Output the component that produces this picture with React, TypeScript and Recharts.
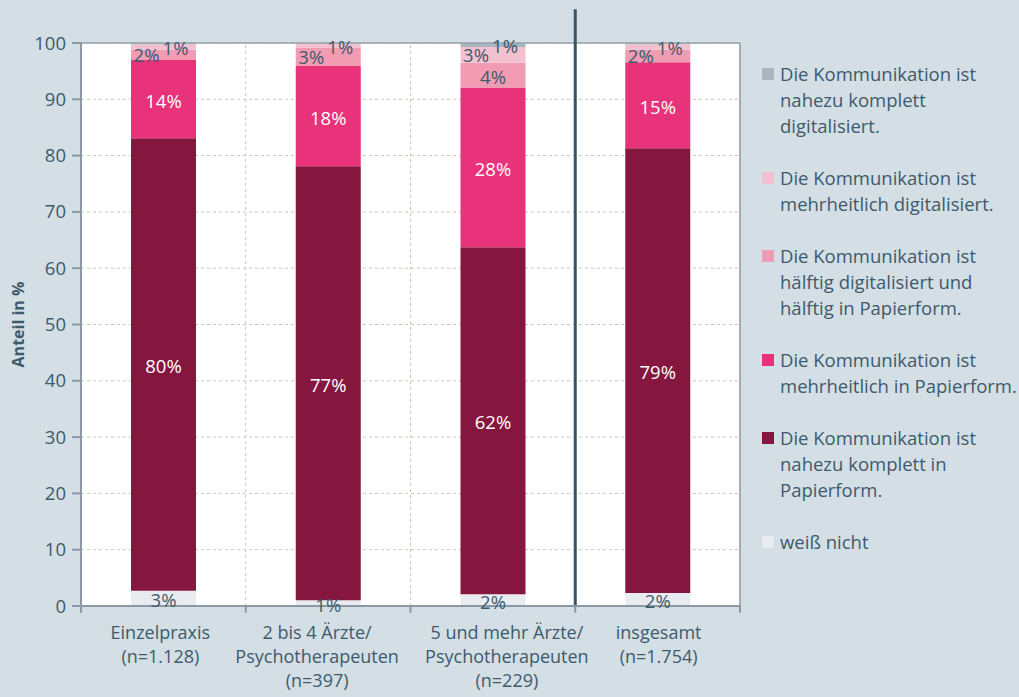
import React from "react";
import { BarChart, Bar, XAxis, YAxis, CartesianGrid, ReferenceLine, LabelList } from "recharts";

const BG = "#d3dee5", INK = "#3e5a6c", AXIS = "#8c98a5", GRID = "#cdc5bc", SEP = "#3a5464";
const FONT = "'Open Sans', sans-serif";

const CATEGORIES = ["Einzelpraxis", "2 bis 4 Ärzte", "5 und mehr Ärzte", "insgesamt"];
const TICK_LINES = [
  ["Einzelpraxis", "(n=1.128)"],
  ["2 bis 4 Ärzte/", "Psychotherapeuten", "(n=397)"],
  ["5 und mehr Ärzte/", "Psychotherapeuten", "(n=229)"],
  ["insgesamt", "(n=1.754)"],
];
const TICK_DX = [-3, -11, 14, 1];
const Y_TICKS = [0, 10, 20, 30, 40, 50, 60, 70, 80, 90, 100];

// stacked bottom -> top
const WEISS_NICHT = [2.7, 1.0, 2.1, 2.3];
const KOMPLETT_PAPIER = [80.4, 77.1, 61.6, 79.0];
const MEHRHEIT_PAPIER = [13.9, 17.8, 28.4, 15.3];
const HAELFTIG = [1.8, 3.3, 4.4, 2.2];
const MEHRHEIT_DIGITAL = [1.0, 0.7, 2.8, 1.0];
const KOMPLETT_DIGITAL = [0.2, 0.1, 0.7, 0.2];

type S = { key: string; name: string; color: string; values: number[]; ink: string; small?: boolean };
const SERIES: S[] = [
  { key: "wn", name: "weiß nicht", color: "#e8ecf0", values: WEISS_NICHT, ink: INK },
  { key: "kp", name: "Die Kommunikation ist\nnahezu komplett in\nPapierform.", color: "#85173f", values: KOMPLETT_PAPIER, ink: "#fff" },
  { key: "mp", name: "Die Kommunikation ist\nmehrheitlich in Papierform.", color: "#e8327a", values: MEHRHEIT_PAPIER, ink: "#fff" },
  { key: "hh", name: "Die Kommunikation ist\nhälftig digitalisiert und\nhälftig in Papierform.", color: "#f29cb4", values: HAELFTIG, ink: INK, small: true },
  { key: "md", name: "Die Kommunikation ist\nmehrheitlich digitalisiert.", color: "#f3c0d0", values: MEHRHEIT_DIGITAL, ink: INK, small: true },
  { key: "kd", name: "Die Kommunikation ist\nnahezu komplett\ndigitalisiert.", color: "#a9b6c0", values: KOMPLETT_DIGITAL, ink: INK, small: true },
];

const data = CATEGORIES.map((c, i) => {
  const row: any = { cat: c };
  SERIES.forEach(s => (row[s.key] = s.values[i]));
  return row;
});

const smallKeys = (i: number) =>
  SERIES.filter(s => s.small && s.values[i] >= 0.5 && s.values[i] < 4).map(s => s.key);

const makeLabel = (s: S) => (p: any) => {
  const vb = p.viewBox || p;
  const { x, y, width, height } = vb;
  const i = p.index;
  const v = s.values[i];
  if (v == null || v < 0.5) return null;
  let dx = 0, dy = 1;
  if (s.small) {
    const k = smallKeys(i).indexOf(s.key);
    if (k === 0) { dx = -17; dy = 0; }
    else if (k === 1) dx = 12;
  }
  return (
    <text x={x + width / 2 + dx} y={y + height / 2 + dy} textAnchor="middle" dominantBaseline="central"
      fill={s.ink} fontSize={18.5} fontFamily={FONT}>
      {Math.round(v)}%
    </text>
  );
};

const XTick = (p: any) => {
  const { x, y, payload } = p;
  const idx = CATEGORIES.indexOf(payload.value);
  const lines = TICK_LINES[idx] || [];
  const tx = x + (TICK_DX[idx] || 0);
  return (
    <text x={tx} y={y} textAnchor="middle" fill={INK} fontSize={18} fontFamily={FONT}>
      {lines.map((l, i) => <tspan key={i} x={tx} dy={i === 0 ? 25 : 24}>{l}</tspan>)}
    </text>
  );
};

const YLabel = (p: any) => {
  const vb = p.viewBox;
  const cx = 18, cy = vb.y + vb.height / 2;
  return (
    <text x={cx} y={cy} transform={`rotate(-90 ${cx} ${cy})`} textAnchor="middle" dominantBaseline="central"
      fill={INK} fontSize={16} fontWeight="bold" fontFamily={FONT}>Anteil in %</text>
  );
};

export default function App() {
  const legend = [...SERIES].reverse();
  return (
    <div style={{ position: "absolute", left: 0, top: 0, width: 1019, height: 697, background: BG, fontFamily: FONT }}>
      <BarChart width={758} height={697} data={data} margin={{ top: 43, right: 18, left: 10, bottom: 11 }}>
        <CartesianGrid vertical={false} stroke={GRID} strokeDasharray="3 3" fill="#fff" />
        <XAxis dataKey="cat" height={80} axisLine={{ stroke: AXIS, strokeWidth: 2 }} tickLine={false} tick={<XTick />} interval={0} />
        <YAxis domain={[0, 100]} ticks={Y_TICKS} width={71} axisLine={{ stroke: AXIS, strokeWidth: 2 }}
          tickLine={{ stroke: AXIS, strokeWidth: 2 }} tickSize={9} tickMargin={6}
          tick={{ fill: INK, fontSize: 18.5, fontFamily: FONT }} label={<YLabel />} />
        <ReferenceLine y={100} stroke="#97a3ad" strokeWidth={1.5} />
        <ReferenceLine x={CATEGORIES[3]} position="end" stroke={AXIS} strokeWidth={1.5} />
        {[1, 2].map(i => (
          <ReferenceLine key={i} x={CATEGORIES[i]} position="start" stroke={GRID} strokeDasharray="3 3" />
        ))}
        {CATEGORIES.map(c => (
          <ReferenceLine key={"t" + c} segment={[{ x: c, y: 0 }, { x: c, y: -1.2 }]} position="start"
            ifOverflow="visible" stroke={AXIS} strokeWidth={2} />
        ))}
        <ReferenceLine segment={[{ x: CATEGORIES[3], y: 0 }, { x: CATEGORIES[3], y: -1.2 }]} position="end"
          ifOverflow="visible" stroke={AXIS} strokeWidth={2} />
        {SERIES.map(s => (
          <Bar key={s.key} dataKey={s.key} name={s.name} stackId="a" fill={s.color} barSize={65} isAnimationActive={false}>
            <LabelList dataKey={s.key} content={makeLabel(s)} />
          </Bar>
        ))}
        <ReferenceLine segment={[{ x: CATEGORIES[3], y: 0 }, { x: CATEGORIES[3], y: 106 }]} position="start"
          ifOverflow="visible" stroke={SEP} strokeWidth={3} />
      </BarChart>
      <div style={{ position: "absolute", left: 762, top: 61 }}>
        {legend.map(s => (
          <div key={s.key} style={{ display: "flex", alignItems: "flex-start", marginBottom: 26 }}>
            <div style={{ width: 12, height: 12, background: s.color, marginTop: 7, marginRight: 6, flexShrink: 0 }} />
            <div style={{ whiteSpace: "pre-line", color: INK, fontSize: 18.5, lineHeight: "26px" }}>{s.name}</div>
          </div>
        ))}
      </div>
    </div>
  );
}
